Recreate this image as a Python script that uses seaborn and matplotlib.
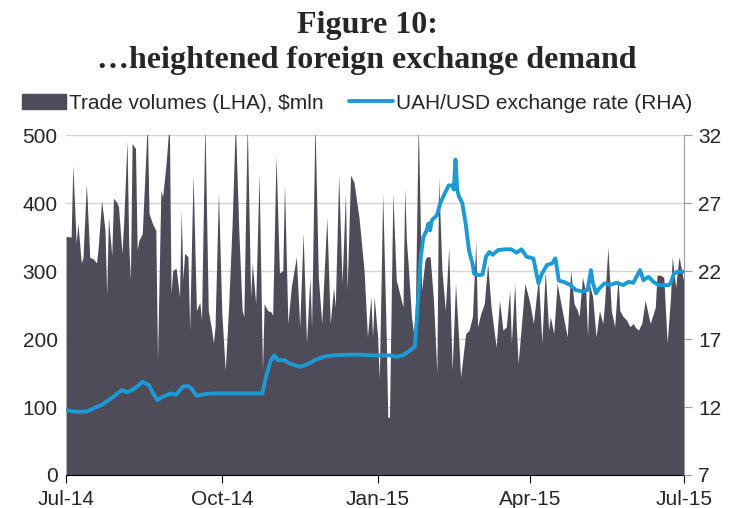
import numpy as np
import pandas as pd
import seaborn as sns
import matplotlib.pyplot as plt
import matplotlib.dates as mdates
from matplotlib.patches import Patch
from matplotlib.lines import Line2D

# trade volumes, $mln (day offset from 1 Jul 2014)
vol_day = [0, 3, 4, 6, 7, 9, 10, 12, 14, 16, 18, 19, 21, 23, 24, 25, 27, 28, 30, 31,
           33, 34, 36, 37, 38, 39, 41, 42, 43, 45, 48, 49, 51, 53, 54, 56, 57, 59,
           61, 62, 63, 65, 67, 68, 69, 70, 72, 73, 75, 77, 79, 80, 82, 84, 86, 87, 88,
           90, 92, 94, 96, 98, 100, 102, 104, 105, 107, 109, 110, 112, 114, 116, 117,
           119, 121, 122, 124, 126, 128, 129, 131, 133, 136, 138, 140, 142, 144, 145,
           147, 149, 151, 154, 156, 158, 159, 161, 163, 165, 166, 168, 170, 173, 176,
           178, 180, 181, 182, 184, 185, 187, 189, 190, 191, 193, 195, 197, 199, 200,
           201, 202, 204, 206, 208, 210, 212, 213, 215, 217, 219, 220, 222, 224, 226,
           228, 230, 232, 233, 236, 238, 240, 242, 243, 245, 247, 249, 251, 254, 256,
           258, 260, 262, 263, 265, 266, 267, 269, 271, 274, 276, 279, 281, 283, 285,
           286, 288, 290, 293, 296, 298, 300, 302, 303, 305, 307, 308, 309, 311, 313,
           315, 317, 318, 320, 322, 324, 326, 327, 329, 331, 333, 335, 336, 338, 340,
           342, 345, 348, 349, 351, 353, 355, 357, 358, 360, 362, 365]
vol_val = [351, 350, 456, 341, 370, 312, 320, 429, 320, 318, 312, 335, 404, 360, 265, 379, 323, 407, 401, 394,
           326, 370, 492, 340, 287, 488, 480, 331, 345, 355, 520, 385, 370, 360, 169, 419, 409, 456,
           520, 267, 301, 304, 262, 389, 287, 326, 321, 213, 443, 242, 254, 228, 520, 242, 213, 194, 218,
           416, 238, 154, 247, 365, 520, 360, 242, 233, 520, 262, 311, 252, 443, 154, 252,
           242, 240, 235, 470, 297, 301, 429, 223, 276, 321, 218, 356, 194, 291, 218,
           520, 291, 223, 379, 223, 276, 247, 441, 282, 414, 272, 441, 431, 379, 301,
           203, 262, 203, 262, 203, 140, 414, 213, 85, 85, 414, 287, 267, 247, 422,
           345, 311, 233, 194, 520, 272, 316, 321, 321, 257, 150, 438, 301, 242, 335,
           154, 282, 194, 144, 208, 213, 233, 345, 218, 238, 252, 311, 247, 188, 257,
           213, 218, 272, 194, 282, 213, 164, 223, 282, 252, 223, 291, 194, 301, 213,
           233, 208, 282, 242, 203, 301, 252, 242, 233, 291, 267, 203, 282, 262, 203,
           242, 223, 252, 335, 242, 218, 291, 242, 233, 228, 218, 223, 218, 213, 223,
           257, 223, 247, 294, 294, 291, 194, 262, 321, 276, 321, 282]

# UAH/USD exchange rate
fx_day = [0, 5, 12, 18, 21, 24, 28, 33, 36, 39, 42, 45, 49, 51, 54, 57, 60, 62, 65, 69,
          72, 74, 77, 82, 88, 98, 108, 116, 118, 121, 123, 125, 129, 132, 138, 142, 147,
          152, 158, 166, 174, 181, 191, 195, 199, 202, 204, 206, 208, 209.5, 211, 213, 214,
          215, 216, 219, 221, 224, 226, 228, 229, 230, 231, 232, 234, 236, 238, 240, 241,
          244, 246, 248, 250, 252, 255, 259, 263, 266, 269, 272, 276, 279, 281, 284, 287,
          289, 291, 294, 298, 301, 305, 308, 310, 311, 313, 315, 318, 321, 325, 329, 332,
          335, 339, 341, 344, 347, 350, 353, 356, 357, 359, 361, 365]
fx_val = [11.78, 11.65, 11.65, 12.0, 12.15, 12.4, 12.76, 13.25, 13.1, 13.25, 13.5, 13.86, 13.6, 13.1,
          12.5, 12.76, 12.9, 13.0, 12.9, 13.5, 13.55, 13.37, 12.83, 12.95, 13.0, 13.0, 13.0, 13.0,
          14.2, 15.45, 15.8, 15.45, 15.45, 15.2, 14.96, 15.1, 15.45, 15.7, 15.8, 15.85, 15.85, 15.8,
          15.8, 15.7, 15.8, 16.07, 16.25, 16.44, 20.1, 23.05, 24.5, 25.0, 25.5, 25.0, 25.75, 26.1,
          27.0, 27.8, 28.3, 28.3, 28.0, 30.2, 28.0, 27.5, 27.0, 25.5, 23.5, 22.56, 21.8, 21.7, 21.75,
          23.05, 23.4, 23.2, 23.54, 23.6, 23.6, 23.35, 23.6, 23.05, 22.93, 21.1, 21.8, 22.44, 22.56,
          22.93, 21.3, 21.2, 20.97, 20.6, 20.5, 20.6, 22.07, 21.2, 20.36, 20.73, 21.1, 20.97, 21.14,
          20.97, 21.2, 21.14, 22.07, 21.33, 21.58, 21.2, 20.97, 20.97, 20.97, 21.1, 21.8, 21.95, 21.95]

tick_labels = ['Jul-14', 'Oct-14', 'Jan-15', 'Apr-15', 'Jul-15']

start = pd.Timestamp('2014-07-01')
vol = pd.DataFrame({'date': start + pd.to_timedelta(vol_day, unit='D'), 'volume': vol_val})
fx = pd.DataFrame({'date': start + pd.to_timedelta(fx_day, unit='D'), 'rate': fx_val})

sns.set_style('white')
plt.rcParams['font.family'] = ['Liberation Sans', 'DejaVu Sans']

AREA = '#4d4c58'
BLUE = '#1b9ad6'

fig = plt.figure(figsize=(7.34, 5.08), dpi=100)
ax = fig.add_axes([0.09, 0.065, 0.842, 0.669])
ax.yaxis.grid(True, color='#d4d4d4', lw=1)
ax.set_axisbelow(True)
ax.fill_between(vol['date'], vol['volume'], color=AREA, lw=0, zorder=2)
ax.set_ylim(0, 500)
ax.set_yticks([0, 100, 200, 300, 400, 500])
ax.set_xlim(pd.Timestamp('2014-07-01'), pd.Timestamp('2015-07-01'))
ticks = pd.to_datetime(['2014-07-01', '2014-10-01', '2015-01-01', '2015-04-01', '2015-07-01'])
ax.set_xticks(ticks)
ax.set_xticklabels(tick_labels)
ax.set_xlabel('')
ax.set_ylabel('')
for s in ['left', 'top', 'right']:
    ax.spines[s].set_visible(False)
ax.spines['bottom'].set_color('black')
ax.tick_params(axis='x', length=6, color='black', labelsize=15, pad=5, direction='out', bottom=True)
ax.tick_params(axis='y', length=0, labelsize=15, pad=6)

ax2 = ax.twinx()
sns.lineplot(data=fx, x='date', y='rate', ax=ax2, color=BLUE, lw=2.8)
ax2.set_ylim(7, 32)
ax2.set_yticks([7, 12, 17, 22, 27, 32])
ax2.set_ylabel('')
ax2.set_xlabel('')
for s in ['left', 'top', 'bottom']:
    ax2.spines[s].set_visible(False)
ax2.spines['right'].set_color('#9a9a9a')
ax2.tick_params(axis='y', length=6, color='#9a9a9a', labelsize=15, pad=4, direction='out', right=True)
ax2.set_xlim(ax.get_xlim())

handles = [Patch(color=AREA), Line2D([0], [0], color=BLUE, lw=2.8)]
fig.legend(handles, ['Trade volumes (LHA), $mln', 'UAH/USD exchange rate (RHA)'],
           ncol=2, loc='center left', bbox_to_anchor=(0.005, 0.797), frameon=False,
           fontsize=15, handlelength=2.1, handleheight=0.7, handletextpad=0.15, columnspacing=1.2)

fig.text(0.5, 0.915, 'Figure 10:\n\u2026heightened foreign exchange demand', ha='center', va='center',
         fontsize=23, fontweight='bold', family='Liberation Serif', linespacing=1.3)

fig.savefig('out.png', dpi=100)
